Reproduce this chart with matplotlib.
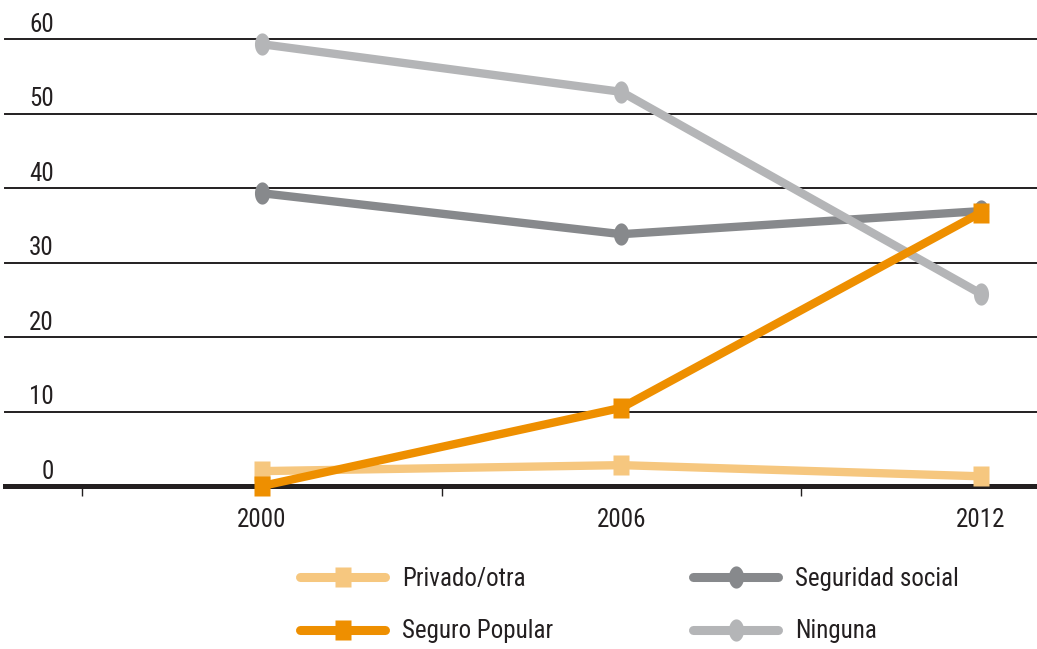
import numpy as np
import matplotlib
matplotlib.use("Agg")
import matplotlib.pyplot as plt
import matplotlib.transforms as mtransforms
from matplotlib.lines import Line2D

plt.rcParams["font.family"] = ["Roboto Condensed", "Fira Sans Condensed",
                               "Sofia Sans Condensed", "DejaVu Sans"]

# Share of population by health coverage (%)
years = ["2000", "2006", "2012"]
privado_otra = [2.0, 2.8, 1.3]
seguro_popular = [0.0, 10.5, 36.7]
seguridad_social = [39.3, 33.8, 36.9]
ninguna = [59.3, 52.9, 25.8]
y_ticks = [0, 10, 20, 30, 40, 50, 60]

c_priv = "#F6C77F"
c_pop = "#EE8F00"
c_soc = "#87898C"
c_nin = "#B4B5B7"
ink = "#231F20"
fs = 18

# tall, narrow marker shapes
sq = [(-0.38, -0.5), (0.38, -0.5), (0.38, 0.5), (-0.38, 0.5), (-0.38, -0.5)]
t = np.linspace(0, 2 * np.pi, 40)
ov = list(zip(0.34 * np.cos(t), 0.5 * np.sin(t)))

fig = plt.figure(figsize=(10.37, 6.49), dpi=100)
ax = fig.add_axes([5 / 1037, 1 - 486 / 649, 1032 / 1037, 447 / 649])
x = np.arange(len(years))

series = [
    (seguridad_social, c_soc, ov, 16, "Seguridad social"),
    (ninguna, c_nin, ov, 16, "Ninguna"),
    (privado_otra, c_priv, sq, 15, "Privado/otra"),
    (seguro_popular, c_pop, sq, 15, "Seguro Popular"),
]
for i, (vals, col, mk, ms, lab) in enumerate(series):
    ax.plot(x, vals, color=col, lw=6.0, marker=mk, ms=ms, mec="none",
            clip_on=False, zorder=3 + i, solid_joinstyle="round")

# horizontal rules
for v in y_ticks[1:]:
    ax.axhline(v, color=ink, lw=1.4, zorder=1, clip_on=False)
ax.axhline(0, color=ink, lw=3.6, zorder=2, clip_on=False)

ax.set_xlim(-0.715, 2.156)
ax.set_ylim(0, 60)
for s in ax.spines.values():
    s.set_visible(False)
ax.set_yticks([])

# ticks between categories, labels on categories
ax.set_xticks([-0.5, 0.5, 1.5])
ax.set_xticklabels([])
ax.tick_params(axis="x", which="major", length=7.5, width=1, color=ink, direction="out")
ax.set_xticks(x, minor=True)
ax.set_xticklabels(years, minor=True, fontsize=fs, color=ink)
ax.tick_params(axis="x", which="minor", length=0, pad=16)

# y values sit above their rules
trans = mtransforms.blended_transform_factory(fig.transFigure, ax.transData)
for v in y_ticks:
    ax.text(54 / 1037, v + 0.95, str(v), transform=trans, ha="right", va="baseline",
            fontsize=fs, color=ink)

handles = []
labels = []
for vals, col, mk, ms, lab in [series[2], series[3], series[0], series[1]]:
    handles.append(Line2D([], [], color=col, lw=6.5, marker=mk, ms=ms, mec="none",
                          solid_capstyle="round"))
    labels.append(lab)
fig.legend(handles, labels, ncol=2, loc="center left", bbox_to_anchor=(300 / 1037, 1 - 605 / 649),
           frameon=False, fontsize=fs, handlelength=3.4, handletextpad=0.68,
           columnspacing=5.6, labelspacing=1.15, borderpad=0, borderaxespad=0,
           labelcolor=ink)

fig.savefig("out.png", dpi=100)
